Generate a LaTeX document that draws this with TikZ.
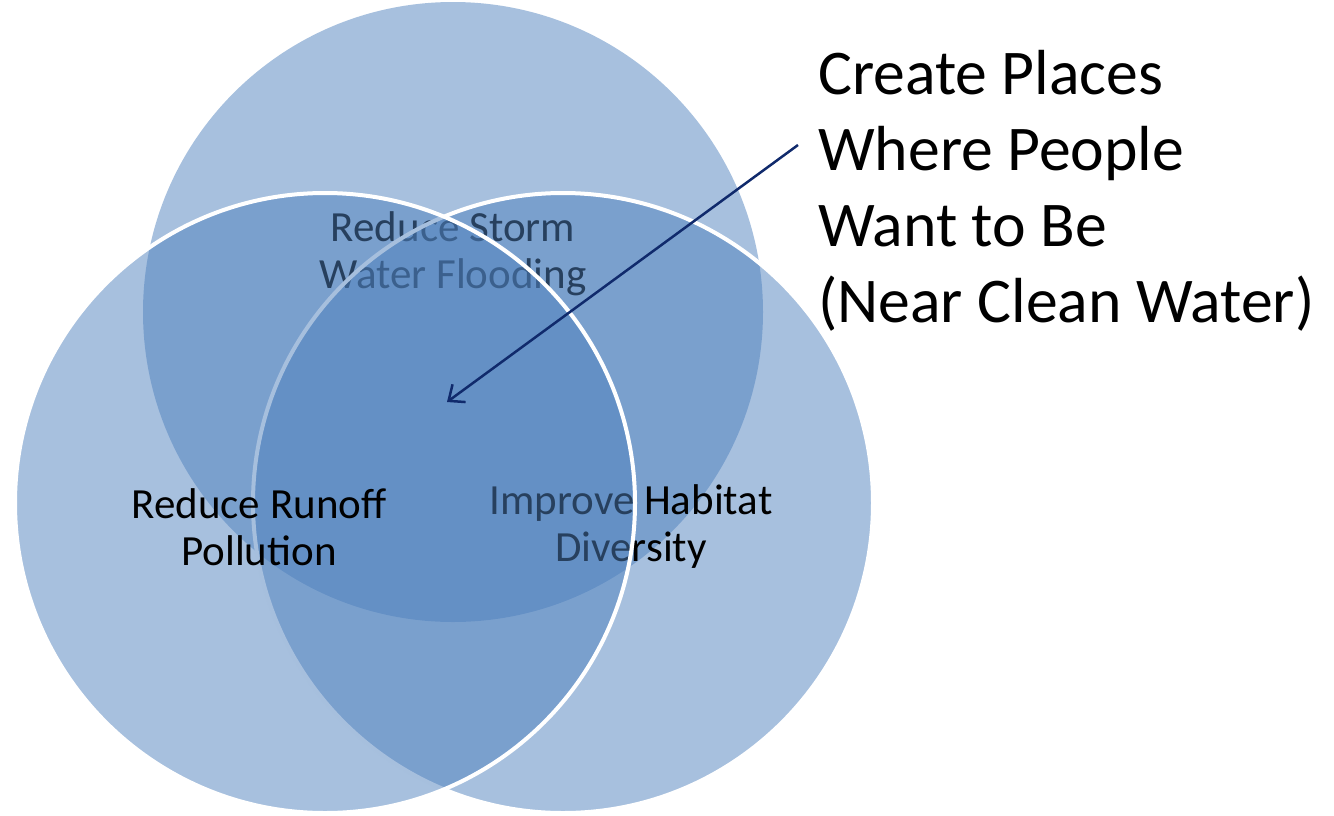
\documentclass[tikz,border=0pt]{standalone}
\usepackage{fontspec}
\setmainfont{Carlito}
\usetikzlibrary{arrows.meta,positioning}
\definecolor{vennblue}{HTML}{4F81BD}
\definecolor{arrowblue}{HTML}{102A6C}
\tikzset{
	x=1pt, y=-1pt,
	venn/.style = {circle, fill=vennblue, fill opacity=0.5, text opacity=1, inner sep=0pt, outer sep=0pt, minimum size=620pt},
	rim/.style = {draw=white, line width=4pt},
	venntext/.style = {align=center, font=\fontsize{43}{47}\selectfont, text=black},
	callout/.style = {align=left, anchor=west, inner sep=0pt, font=\fontsize{63.7}{76}\selectfont},
	pointer/.style = {draw=arrowblue, line width=2.5pt, -{Straight Barb[length=13pt,width=22pt]}}
}

\begin{document}
\begin{tikzpicture}
	\useasboundingbox (0,0) rectangle (1334,815);
	
	% the three sets
	\node[venn] (storm) at (453,312) {};
	\node[venntext] (stormtext) at (453,254) {Reduce Storm\\Water Flooding};
	\node[venn, rim] (habitat) at (563,503) {};
	\node[venntext] (habitattext) at (631,527) {Improve Habitat\\Diversity};
	\node[venn, rim] (runoff) at (325,503) {};
	\node[venntext] (runofftext) at (259,527) {Reduce Runoff\\Pollution};
	
	% the common part
	\node[callout] (places) at (818,191) {Create Places\\Where People\\Want to Be\\(Near Clean Water)};
	\coordinate (tail) at (798,145);
	\coordinate (centre) at (447,402);
	\draw[pointer] (tail) -- (centre);
\end{tikzpicture}
\end{document}
